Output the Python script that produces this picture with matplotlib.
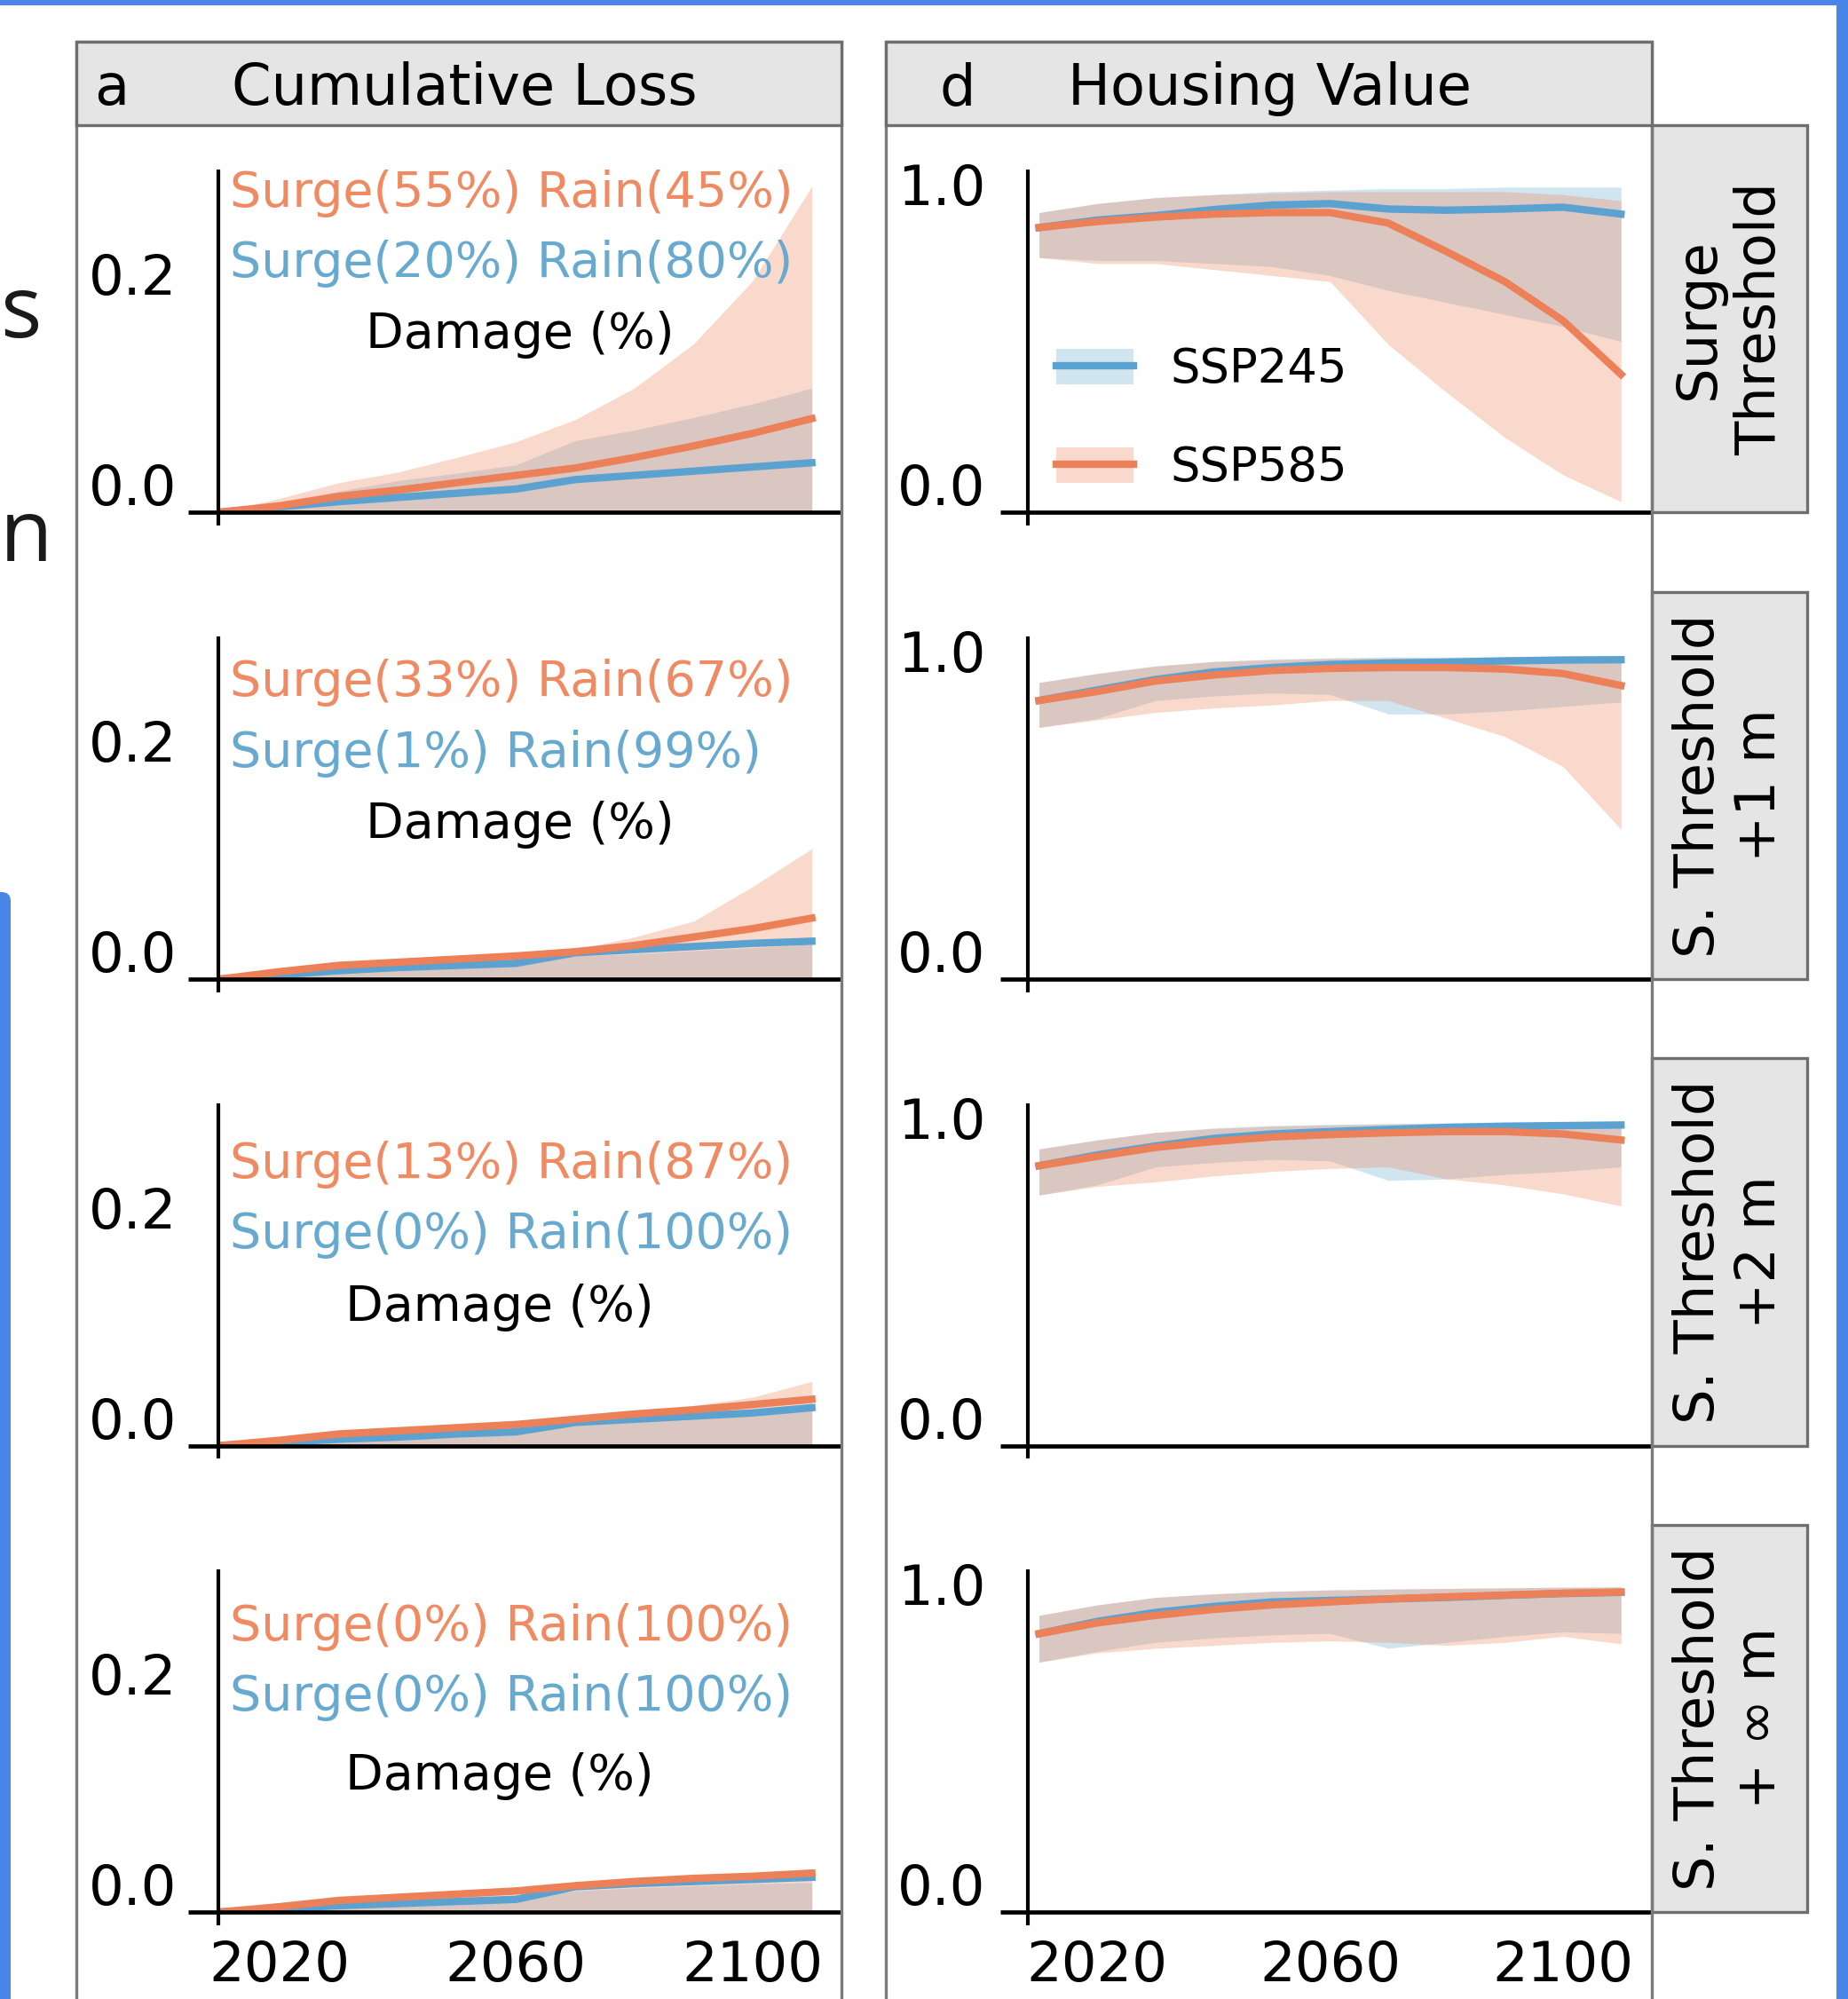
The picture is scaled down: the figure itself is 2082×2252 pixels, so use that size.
import matplotlib
matplotlib.use('Agg')
import matplotlib.pyplot as plt
from matplotlib.patches import Rectangle, Patch, FancyBboxPatch
from matplotlib.lines import Line2D
from matplotlib.ticker import FormatStrFormatter
from matplotlib.transforms import IdentityTransform, ScaledTranslation

plt.rcParams['font.family'] = ['DejaVu Sans']

# ---- data ----
years = [2010, 2020, 2030, 2040, 2050, 2060, 2070, 2080, 2090, 2100, 2110]

# cumulative loss, one list per threshold row
loss_245 = [
    [0, 0.005, 0.010, 0.014, 0.018, 0.022, 0.031, 0.035, 0.039, 0.043, 0.047],
    [0, 0.004, 0.008, 0.011, 0.013, 0.015, 0.025, 0.028, 0.031, 0.034, 0.036],
    [0, 0.003, 0.006, 0.008, 0.011, 0.013, 0.022, 0.025, 0.028, 0.031, 0.036],
    [0, 0.003, 0.006, 0.008, 0.010, 0.012, 0.024, 0.027, 0.029, 0.031, 0.033],
]
loss_585 = [
    [0, 0.006, 0.015, 0.021, 0.028, 0.035, 0.042, 0.052, 0.063, 0.075, 0.089],
    [0, 0.007, 0.013, 0.016, 0.019, 0.022, 0.026, 0.032, 0.040, 0.048, 0.058],
    [0, 0.005, 0.011, 0.014, 0.017, 0.020, 0.025, 0.030, 0.034, 0.039, 0.044],
    [0, 0.005, 0.011, 0.014, 0.017, 0.020, 0.025, 0.029, 0.032, 0.034, 0.037],
]
loss_245_hi = [
    [0, 0.008, 0.020, 0.030, 0.037, 0.045, 0.068, 0.078, 0.090, 0.103, 0.118],
    [0, 0.005, 0.009, 0.012, 0.014, 0.016, 0.022, 0.024, 0.027, 0.030, 0.033],
    [0, 0.004, 0.008, 0.010, 0.013, 0.015, 0.024, 0.026, 0.028, 0.031, 0.033],
    [0, 0.004, 0.007, 0.009, 0.011, 0.013, 0.020, 0.023, 0.025, 0.027, 0.028],
]
loss_585_hi = [
    [0, 0.013, 0.028, 0.038, 0.052, 0.067, 0.088, 0.118, 0.160, 0.220, 0.310],
    [0, 0.008, 0.016, 0.018, 0.020, 0.023, 0.028, 0.040, 0.055, 0.088, 0.124],
    [0, 0.006, 0.013, 0.016, 0.019, 0.022, 0.027, 0.032, 0.038, 0.046, 0.061],
    [0, 0.006, 0.012, 0.015, 0.018, 0.021, 0.026, 0.030, 0.033, 0.036, 0.040],
]

# housing value
house_245 = [
    [0.95, 0.975, 0.99, 1.01, 1.025, 1.03, 1.012, 1.008, 1.012, 1.018, 0.995],
    [0.93, 0.965, 1.0, 1.025, 1.04, 1.05, 1.055, 1.058, 1.062, 1.065, 1.066],
    [0.934, 0.97, 1.0, 1.025, 1.04, 1.048, 1.055, 1.062, 1.066, 1.068, 1.07],
    [0.929, 0.97, 1.0, 1.02, 1.035, 1.04, 1.045, 1.05, 1.057, 1.063, 1.067],
]
house_585 = [
    [0.95, 0.97, 0.985, 0.995, 1.0, 1.0, 0.965, 0.87, 0.77, 0.64, 0.46],
    [0.93, 0.96, 0.995, 1.015, 1.03, 1.037, 1.04, 1.04, 1.035, 1.02, 0.98],
    [0.934, 0.965, 0.995, 1.015, 1.03, 1.038, 1.044, 1.048, 1.048, 1.04, 1.02],
    [0.929, 0.965, 0.99, 1.01, 1.025, 1.035, 1.045, 1.052, 1.058, 1.064, 1.068],
]
house_245_lo = [
    [0.85, 0.84, 0.84, 0.83, 0.82, 0.79, 0.74, 0.70, 0.66, 0.62, 0.57],
    [0.84, 0.87, 0.93, 0.945, 0.955, 0.95, 0.885, 0.885, 0.895, 0.91, 0.925],
    [0.836, 0.87, 0.93, 0.945, 0.955, 0.95, 0.885, 0.89, 0.905, 0.915, 0.93],
    [0.834, 0.87, 0.9, 0.915, 0.925, 0.93, 0.88, 0.9, 0.92, 0.935, 0.93],
]
house_245_hi = [
    [1.0, 1.03, 1.05, 1.06, 1.07, 1.075, 1.08, 1.08, 1.085, 1.085, 1.085],
    [0.99, 1.02, 1.045, 1.06, 1.068, 1.072, 1.075, 1.075, 1.076, 1.077, 1.077],
    [0.99, 1.02, 1.045, 1.06, 1.068, 1.072, 1.075, 1.077, 1.078, 1.079, 1.08],
    [0.99, 1.025, 1.05, 1.062, 1.07, 1.075, 1.078, 1.08, 1.082, 1.084, 1.085],
]
house_585_lo = [
    [0.85, 0.83, 0.83, 0.81, 0.79, 0.77, 0.56, 0.40, 0.25, 0.125, 0.035],
    [0.84, 0.865, 0.89, 0.905, 0.915, 0.93, 0.93, 0.87, 0.81, 0.71, 0.50],
    [0.836, 0.865, 0.88, 0.9, 0.915, 0.925, 0.93, 0.89, 0.87, 0.84, 0.80],
    [0.834, 0.865, 0.88, 0.89, 0.9, 0.905, 0.9, 0.89, 0.9, 0.92, 0.895],
]
house_585_hi = [
    [1.0, 1.03, 1.05, 1.06, 1.065, 1.07, 1.07, 1.07, 1.07, 1.06, 1.04],
    [0.99, 1.02, 1.045, 1.06, 1.066, 1.07, 1.072, 1.072, 1.072, 1.07, 1.065],
    [0.99, 1.02, 1.045, 1.058, 1.066, 1.07, 1.073, 1.075, 1.075, 1.074, 1.07],
    [0.99, 1.025, 1.05, 1.062, 1.07, 1.075, 1.078, 1.08, 1.082, 1.084, 1.085],
]

share_585 = ['Surge(55%) Rain(45%)', 'Surge(33%) Rain(67%)',
             'Surge(13%) Rain(87%)', 'Surge(0%) Rain(100%)']
share_245 = ['Surge(20%) Rain(80%)', 'Surge(1%) Rain(99%)',
             'Surge(0%) Rain(100%)', 'Surge(0%) Rain(100%)']
row_labels = ['Surge\nThreshold', 'S. Threshold\n+1 m',
              'S. Threshold\n+2 m', 'S. Threshold\n+ \u221e m']
xticks = [2020, 2060, 2100]

# ---- styling / layout ----
W, H = 2082, 2252
c245, c585 = '#67a9cf', '#ef8a62'
c245_line, c585_line = '#5ba2d0', '#ec8058'
strip_fc, strip_ec = '#e5e5e5', '#6e6e6e'
frame_ec = '#7a7a7a'
doc_blue = '#4a86e8'
lw_line = 6

lx0, lx1 = 246, 948
rx0, rx1 = 1157.5, 1861
bottoms = [577, 1103, 1628.5, 2154]
ah = 386
strip_tops = [141, 667, 1192, 1718]
# annotation heights (axes fraction) per row: orange, blue, "Damage"
txt_y = [(0.93, 0.726, 0.518), (0.864, 0.659, 0.452),
         (0.819, 0.614, 0.404), (0.831, 0.626, 0.397)]
dmg_x = [0.484, 0.484, 0.452, 0.452]

fig = plt.figure(figsize=(W / 100, H / 100), dpi=100)
lift = ScaledTranslation(0, 8 / 100, fig.dpi_scale_trans)


def box(x0, y0, x1, y1, **kw):
    # pixel box, y counted from the top
    r = Rectangle((x0 / W, 1 - y1 / H), (x1 - x0) / W, (y1 - y0) / H,
                  transform=fig.transFigure, **kw)
    fig.add_artist(r)
    return r


def own_spines(ax, ext):
    for s in ax.spines.values():
        s.set_visible(False)
    ax.patch.set_alpha(0)
    ax.plot([-ext, 1], [0, 0], transform=ax.transAxes, color='k', lw=3.4,
            clip_on=False, solid_capstyle='butt', zorder=5)
    ax.plot([0, 0], [-0.038, 1], transform=ax.transAxes, color='k', lw=3.0,
            clip_on=False, solid_capstyle='butt', zorder=5)
    ax.tick_params(length=0, labelsize=45)
    ax.tick_params(axis='y', pad=34)
    ax.tick_params(axis='x', pad=22)


for r in range(4):
    b = bottoms[r]
    axL = fig.add_axes([lx0 / W, 1 - b / H, (lx1 - lx0) / W, ah / H])
    axR = fig.add_axes([rx0 / W, 1 - b / H, (rx1 - rx0) / W, ah / H])

    # cumulative loss
    axL.fill_between(years, 0, loss_245_hi[r], color=c245, alpha=0.3, lw=0)
    axL.fill_between(years, 0, loss_585_hi[r], color=c585, alpha=0.32, lw=0)
    axL.plot(years, loss_245[r], color=c245_line, lw=lw_line)
    axL.plot(years, loss_585[r], color=c585_line, lw=lw_line)
    axL.set_xlim(2009.7, 2115)
    axL.set_ylim(0, 0.3258)
    axL.set_yticks([0, 0.2])
    own_spines(axL, 0.048)

    ty = txt_y[r]
    axL.text(0.018, ty[0], share_585[r], transform=axL.transAxes, color=c585,
             fontsize=40, ha='left', va='center')
    axL.text(0.018, ty[1], share_245[r], transform=axL.transAxes, color=c245,
             fontsize=40, ha='left', va='center')
    axL.text(dmg_x[r], ty[2], 'Damage (%)', transform=axL.transAxes,
             color='black', fontsize=40, ha='center', va='center')

    # housing value
    axR.fill_between(years, house_245_lo[r], house_245_hi[r], color=c245, alpha=0.3, lw=0)
    axR.fill_between(years, house_585_lo[r], house_585_hi[r], color=c585, alpha=0.32, lw=0)
    axR.plot(years, house_245[r], color=c245_line, lw=lw_line)
    axR.plot(years, house_585[r], color=c585_line, lw=lw_line)
    axR.set_xlim(2008, 2115.3)
    axR.set_ylim(0, 1.1437)
    axR.set_yticks([0, 1.0])
    own_spines(axR, 0.044)

    for ax in (axL, axR):
        ax.yaxis.set_major_formatter(FormatStrFormatter('%.1f'))
        ax.set_xticks(xticks)
        for t in ax.get_yticklabels():
            t.set_verticalalignment('baseline')
            t.set_transform(t.get_transform() + lift)
        if r < 3:
            ax.tick_params(axis='x', labelbottom=False)

    if r == 0:
        h245 = (Patch(facecolor=c245, alpha=0.3, lw=0), Line2D([], [], color=c245_line, lw=lw_line))
        h585 = (Patch(facecolor=c585, alpha=0.32, lw=0), Line2D([], [], color=c585_line, lw=lw_line))
        axR.legend([h245, h585], ['SSP245', 'SSP585'], loc='upper left',
                   bbox_to_anchor=(0.0156, 0.539), borderaxespad=0,
                   fontsize=38, handlelength=1.65, handleheight=0.8,
                   handletextpad=0.8, labelspacing=1.12, borderpad=0.4,
                   frameon=True, fancybox=False, framealpha=1,
                   facecolor='white', edgecolor='none')

    # row strip on the right
    box(1861, strip_tops[r], 2036, b, facecolor=strip_fc, edgecolor=strip_ec, lw=2.4)
    fig.text(1948.5 / W, 1 - (strip_tops[r] + b) / 2 / H, row_labels[r],
             rotation=90, fontsize=45, ha='center', va='center',
             multialignment='center')

# column frames and header strips
box(86, 47, 948, 2400, fill=False, edgecolor=frame_ec, lw=2.4)
box(998, 47, 1861, 2400, fill=False, edgecolor=frame_ec, lw=2.4)
box(86, 47, 948, 141, facecolor=strip_fc, edgecolor=strip_ec, lw=2.4)
box(998, 47, 1861, 141, facecolor=strip_fc, edgecolor=strip_ec, lw=2.4)
fig.text(106 / W, 1 - 118 / H, 'a', fontsize=46, va='baseline')
fig.text(261 / W, 1 - 118 / H, 'Cumulative Loss', fontsize=46, va='baseline')
fig.text(1058 / W, 1 - 118 / H, 'd', fontsize=46, va='baseline')
fig.text(1203 / W, 1 - 118 / H, 'Housing Value', fontsize=46, va='baseline')

# bits of the surrounding document in the screenshot
box(0, 0, W, 6, facecolor=doc_blue, edgecolor='none')
box(2069, 0, W, H, facecolor=doc_blue, edgecolor='none')
bar = FancyBboxPatch((-20, -20), 32, H - 1005 + 20,
                     boxstyle='round,pad=0,rounding_size=10',
                     transform=IdentityTransform(), facecolor=doc_blue, edgecolor='none')
fig.add_artist(bar)
fig.text(0, 1 - 380 / H, 's', fontsize=70, family=['Open Sans', 'DejaVu Sans'],
         color='#1a1a1a', ha='left', va='baseline')
fig.text(0, 1 - 632 / H, 'n', fontsize=70, family=['Open Sans', 'DejaVu Sans'],
         color='#1a1a1a', ha='left', va='baseline')

fig.savefig('out.png', dpi=100)
